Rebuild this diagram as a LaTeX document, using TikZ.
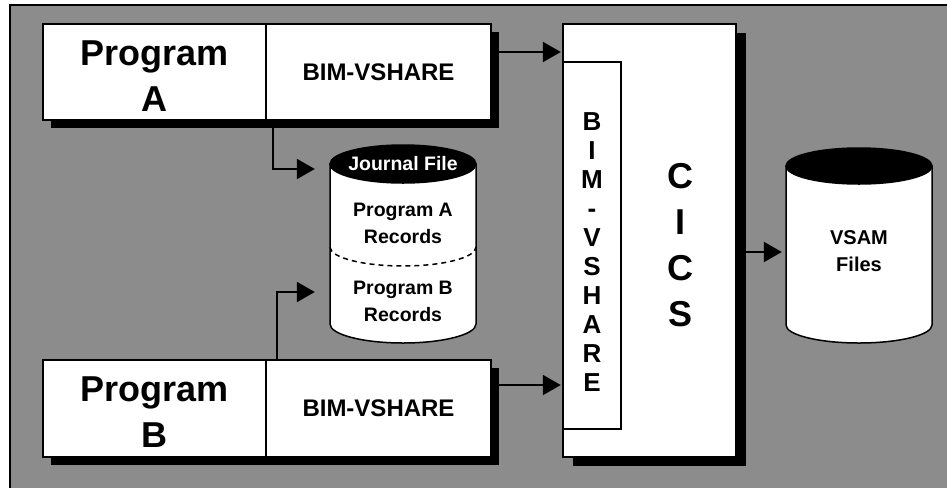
\documentclass[tikz,border=0pt]{standalone}
\usepackage{fontspec}
\setmainfont{Liberation Sans}
\usetikzlibrary{arrows.meta,calc}
\definecolor{bg}{RGB}{140,140,140}
\begin{document}
\begin{tikzpicture}[x=1pt,y=1pt,
  conn/.style={line width=2pt,-{Triangle[length=18pt,width=20pt]}},
  box/.style={draw,line width=2pt,fill=white,inner sep=0pt,align=center},
  anchorbox/.style={inner sep=0pt},
  bigtxt/.style={align=center,font=\fontsize{36}{46}\selectfont\bfseries},
  midtxt/.style={align=center,font=\fontsize{24}{28}\selectfont\bfseries},
  cyltxt/.style={align=center,font=\fontsize{19.5}{27}\selectfont\bfseries},
  shadow/.style={fill=black}
]
\useasboundingbox (0,0) rectangle (947,-488);
\fill[bg] (10,-5) rectangle (947,-488);
\draw[line width=1.5pt] (10,-488) -- (10,-5) -- (947,-5);

% anchor nodes
\node[anchorbox,minimum width=223pt,minimum height=96pt] (pAl) at (154.5,-72) {};
\node[anchorbox,minimum width=225pt,minimum height=96pt] (pAr) at (378.5,-72) {};
\node[anchorbox,minimum width=223pt,minimum height=97pt] (pBl) at (154.5,-408.5) {};
\node[anchorbox,minimum width=225pt,minimum height=97pt] (pBr) at (378.5,-408.5) {};
\node[anchorbox,minimum width=173pt,minimum height=433pt] (cics) at (649.5,-240.5) {};
\node[anchorbox,minimum width=146pt,minimum height=198pt] (jf) at (403,-244) {};
\node[anchorbox,minimum width=146pt,minimum height=195pt] (vsam) at (859,-245.5) {};

% connectors
\draw[conn,shorten >=2pt] ([yshift=20pt]pAr.east) -- ([yshift=20pt]pAr.east -| cics.west);
\draw[conn,shorten >=2pt] ([yshift=23.5pt]pBr.east) -- ([yshift=23.5pt]pBr.east -| cics.west);
\draw[conn,shorten >=4pt] ([yshift=-11.5pt]cics.east) -- ([yshift=-11.5pt]cics.east -| vsam.west);
\draw[conn,shorten >=15pt] ([xshift=7pt]pAr.south west) |- ([yshift=75pt]jf.west);
\draw[conn,shorten >=15pt] ([xshift=11pt]pBr.north west) |- ([yshift=-48pt]jf.west);

% shadows
\fill[shadow] ([shift={(8,-8)}]pAl.north west) rectangle ([shift={(8,-8)}]pAr.south east);
\fill[shadow] ([shift={(8,-8)}]pBl.north west) rectangle ([shift={(8,-8)}]pBr.south east);
\fill[shadow] ([shift={(10,-9)}]cics.north west) rectangle ([shift={(10,-9)}]cics.south east);

% program boxes
\node[box,minimum width=223pt,minimum height=96pt] (pAlb) at (pAl) {};
\node[bigtxt] (pAtxt) at (154.5,-76) {Program\\A};
\node[box,minimum width=225pt,minimum height=96pt,midtxt] (pArb) at (pAr) {BIM-VSHARE};
\node[box,minimum width=223pt,minimum height=97pt] (pBlb) at (pBl) {};
\node[bigtxt] (pBtxt) at (154.5,-412) {Program\\B};
\node[box,minimum width=225pt,minimum height=97pt,midtxt] (pBrb) at (pBr) {BIM-VSHARE};

% CICS
\node[box,minimum width=173pt,minimum height=433pt] (cicsb) at (cics) {};
\node[draw,line width=1.5pt,fill=white,inner sep=0pt,minimum width=58pt,minimum height=367pt] (bim) at (592,-245.5) {};
\node[align=center,font=\fontsize{26}{29}\selectfont\bfseries] (bimtxt) at (592,-252.5) {B\\I\\M\\-\\V\\S\\H\\A\\R\\E};
\node[align=center,font=\fontsize{36}{46}\selectfont\bfseries] (cicstxt) at (680,-245) {C\\I\\C\\S};

% journal cylinder
\draw[line width=1.5pt,fill=white] (330,-164) -- (330,-324) arc[start angle=180,end angle=360,x radius=73,y radius=19] -- (476,-164) -- cycle;
\draw[line width=1.5pt,dash pattern=on 5pt off 4pt] (330,-247) arc[start angle=180,end angle=360,x radius=73,y radius=19];
\draw[line width=1.5pt,fill=black] (403,-164) ellipse[x radius=73,y radius=19];
\node[cyltxt,text=white] (jftitle) at (403,-164) {Journal File};
\node[cyltxt] (jfa) at (403,-223.5) {Program A\\Records};
\node[cyltxt] (jfb) at (403,-301) {Program B\\Records};

% VSAM cylinder
\draw[line width=1.5pt,fill=white] (786,-166) -- (786,-325) arc[start angle=180,end angle=360,x radius=73,y radius=18] -- (932,-166) -- cycle;
\draw[line width=1.5pt,fill=black] (859,-166) ellipse[x radius=73,y radius=18];
\node[align=center,font=\fontsize{20}{27}\selectfont\bfseries] (vsamtxt) at (859,-251.5) {VSAM\\Files};
\end{tikzpicture}
\end{document}
